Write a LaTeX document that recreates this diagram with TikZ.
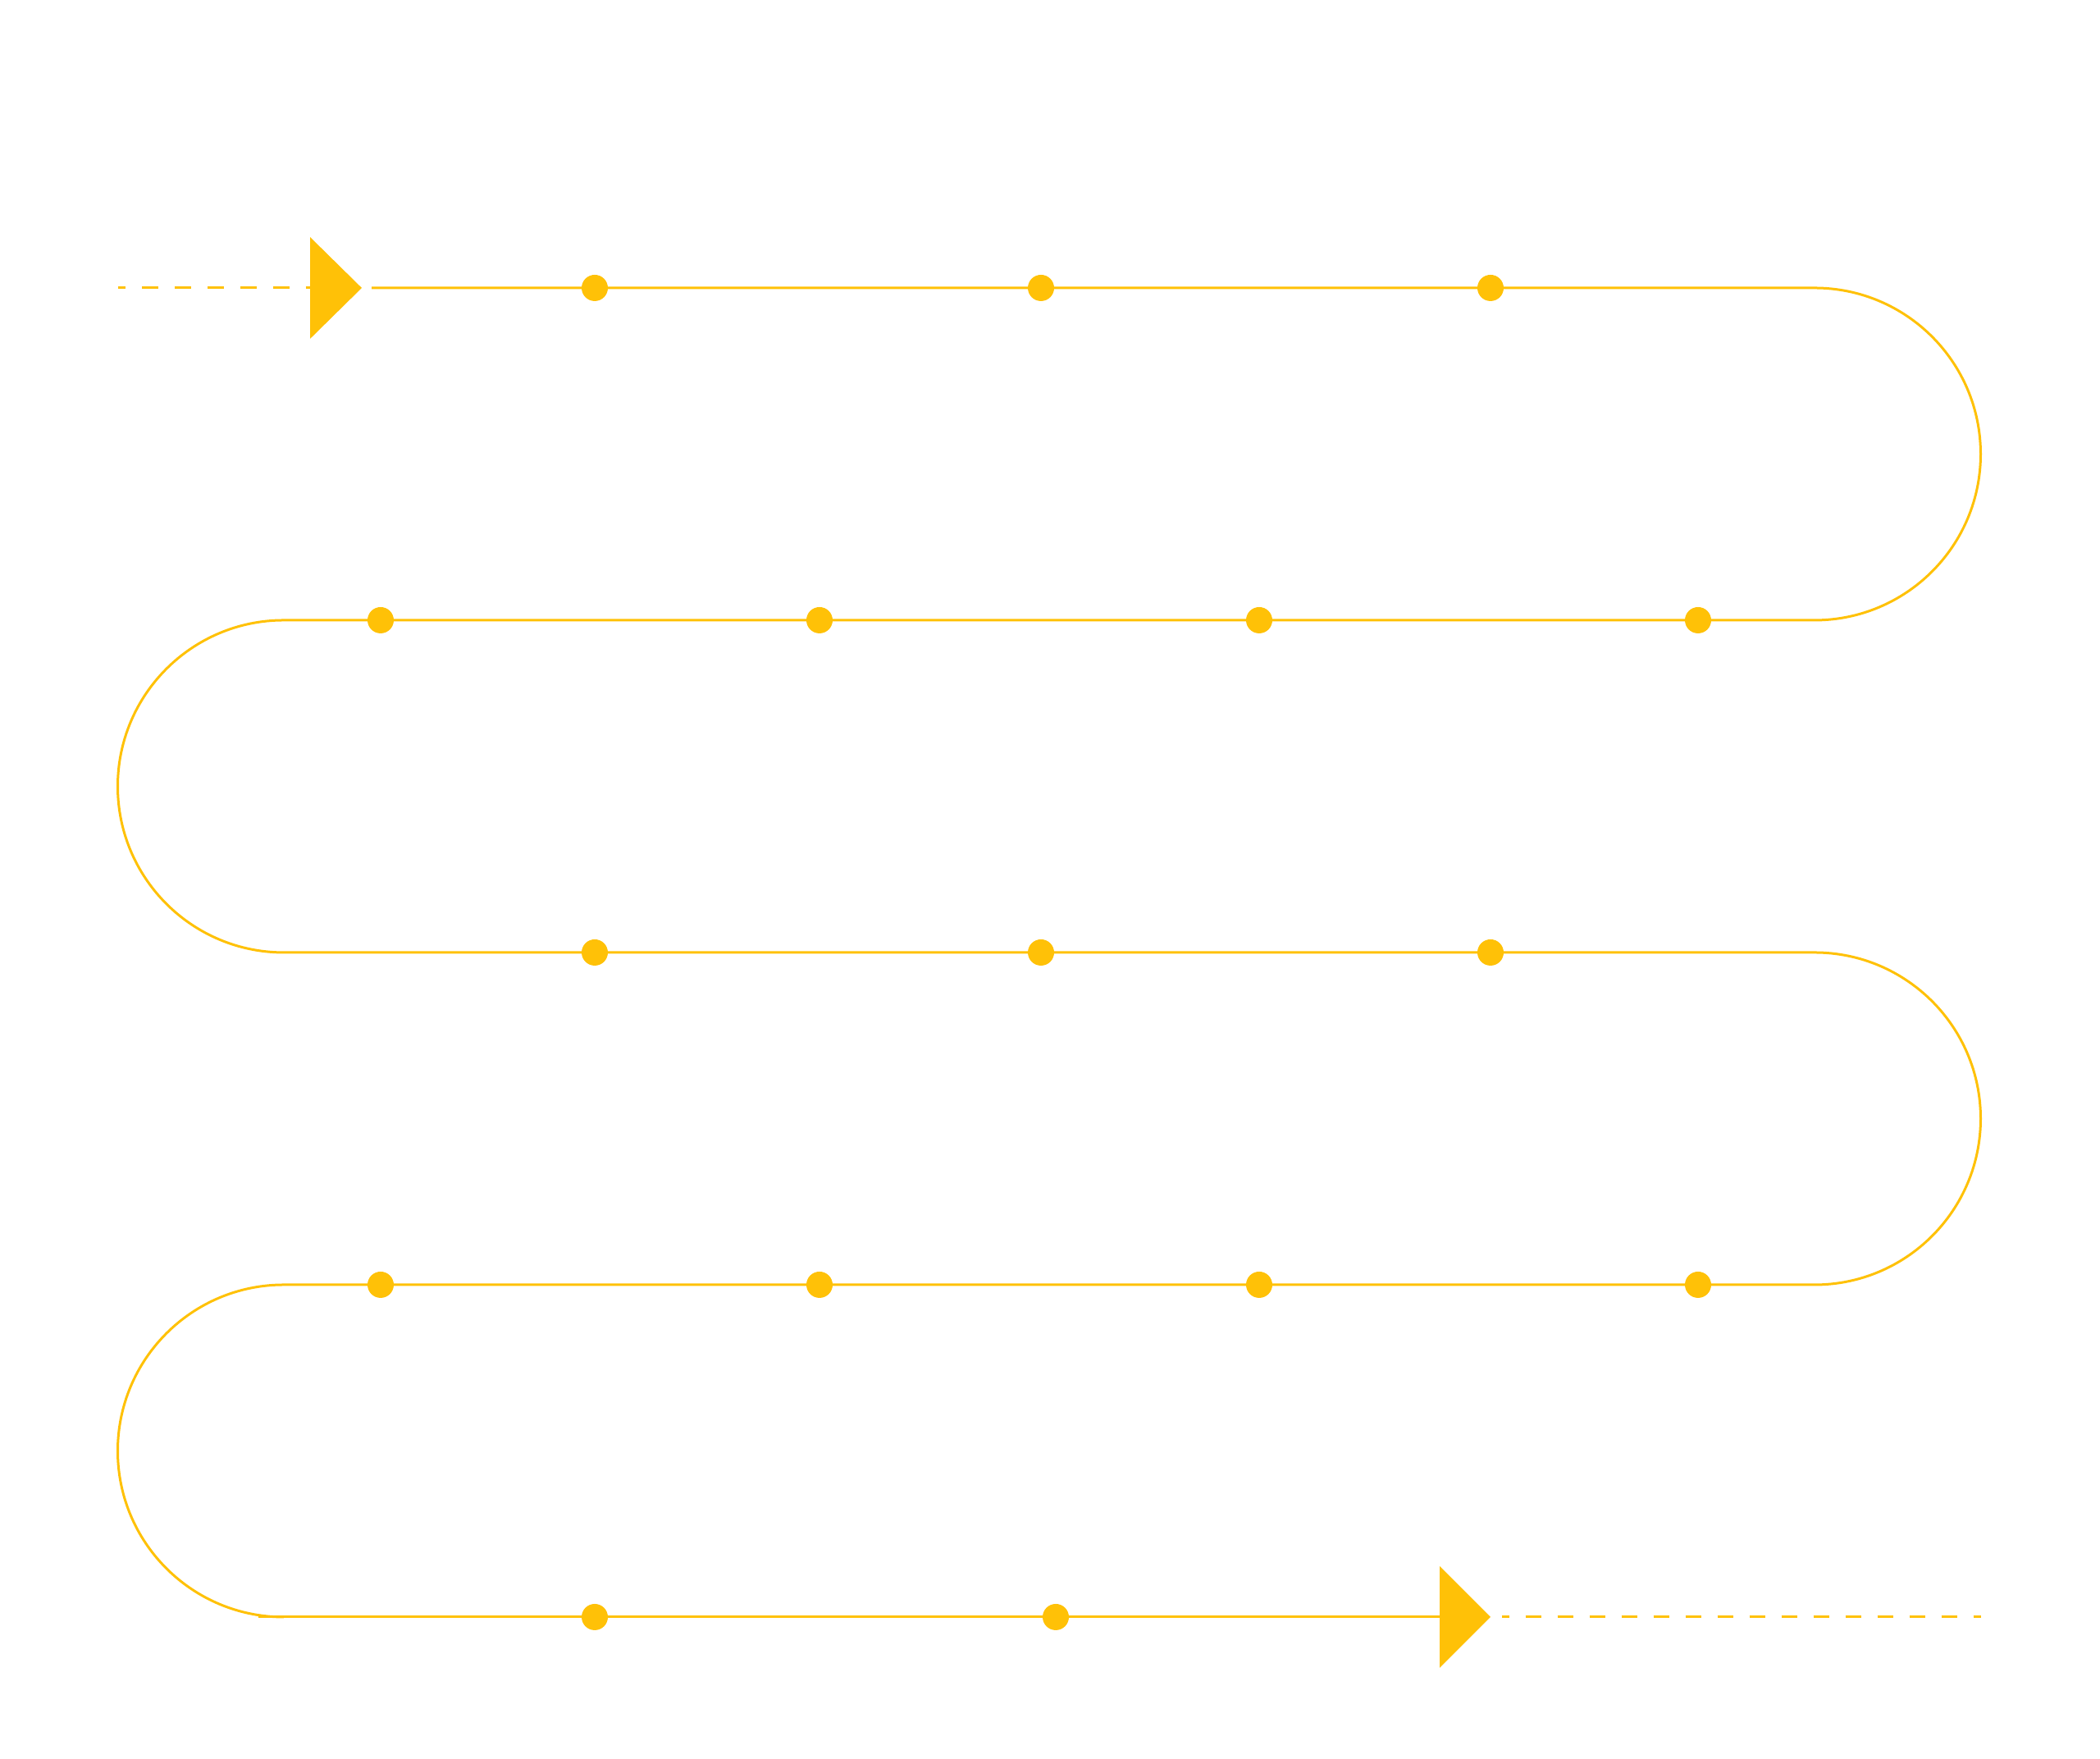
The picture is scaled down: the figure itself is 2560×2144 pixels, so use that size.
\documentclass[tikz,border=0pt]{standalone}
\usepackage{xcolor}
\usepackage{tikz}
\usetikzlibrary{positioning, calc}
\definecolor{amber}{HTML}{FFC107}

\begin{document}
\begin{tikzpicture}[
    x=0.1mm, y=0.1mm,
    track/.style={draw=amber, line width=0.3mm},
    lead/.style={track, dash pattern=on 2mm off 2mm, dash phase=1.1mm},
    tail/.style={track, dash pattern=on 1.95mm off 1.95mm, dash phase=1.05mm},
    milestone/.style={
      circle, fill=amber, inner sep=0pt, minimum size=3.2mm
    },
    tip/.style={fill=amber}
  ]

    \useasboundingbox (0,0) rectangle (2560,2144);

    % ── Start and end points ──
    \coordinate (lead in) at (144,1793);
    \coordinate (head in) at (378,1793);
    \coordinate (track in) at (453,1793);
    \coordinate (track out) at (315,173);
    \coordinate (head out) at (1755,173);
    \coordinate (lead out) at (1831,173);
    \coordinate (end out) at (2415,173);

    % ── Winding track ──
    \draw[track] (track in) -- (2212,1793)
      arc[start angle=90, end angle=-90, radius=202.5] -- (346,1388)
      arc[start angle=90, end angle=270, radius=202.5] -- (2212,983)
      arc[start angle=90, end angle=-90, radius=202.5] -- (346,578)
      arc[start angle=90, end angle=270, radius=202.5];
    \draw[track] (track out) -- (head out);

    % ── Dashed leads ──
    \draw[lead] (lead in) -- (head in);
    \draw[tail] (lead out) -- (end out);

    % ── Arrow heads ──
    \fill[tip] ($(head in)+(0,62)$) -- ($(head in)+(63,0)$)
      -- ($(head in)+(0,-62)$) -- cycle;
    \fill[tip] ($(head out)+(0,62)$) -- ($(head out)+(62,0)$)
      -- ($(head out)+(0,-62)$) -- cycle;

    % ── Milestones ──
    \foreach \row/\y in {a/1793, c/983}
      \foreach \x [count=\i] in {725, 1269, 1817}
        \node[milestone] (m\row\i) at (\x,\y) {};
    \foreach \row/\y in {b/1388, d/578}
      \foreach \x [count=\i] in {464, 999, 1535, 2070}
        \node[milestone] (m\row\i) at (\x,\y) {};
    \node[milestone] (me1) at (725,173) {};
    \node[milestone] (me2) at (1287,173) {};

  \end{tikzpicture}
\end{document}
